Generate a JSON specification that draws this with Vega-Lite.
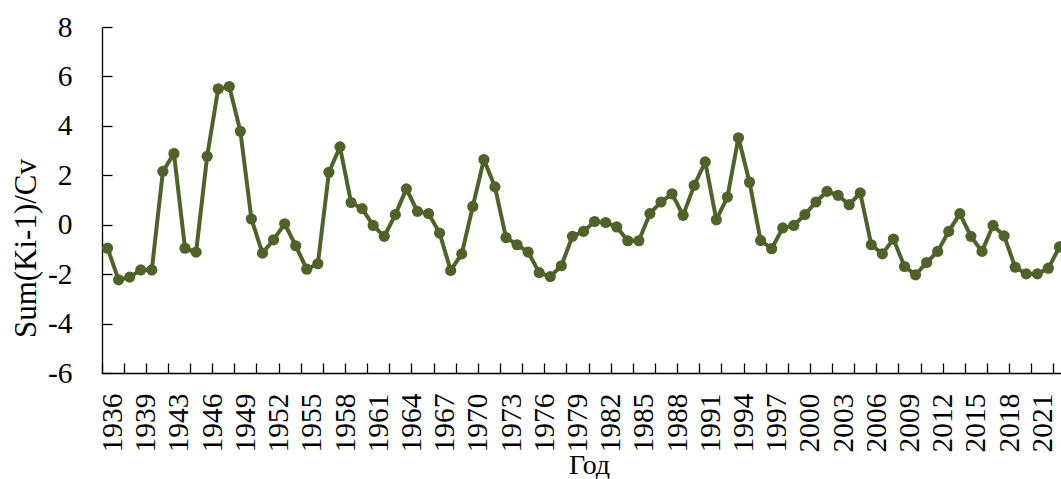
{
  "$schema": "https://vega.github.io/schema/vega-lite/v6.json",
  "width": 959,
  "height": 346,
  "autosize": {"type": "none"},
  "padding": {"left": 102, "top": 27, "right": 0, "bottom": 106},
  "background": "white",
  "config": {"view": {"stroke": null}, "font": "Liberation Serif"},
  "data": {
    "values": [
      {"year": 1936, "value": -0.95}, {"year": 1937, "value": -2.23}, {"year": 1938, "value": -2.12},
      {"year": 1939, "value": -1.83}, {"year": 1940, "value": -1.83}, {"year": 1942, "value": 2.16},
      {"year": 1943, "value": 2.88}, {"year": 1944, "value": -0.95}, {"year": 1945, "value": -1.11},
      {"year": 1946, "value": 2.77}, {"year": 1947, "value": 5.5}, {"year": 1948, "value": 5.59},
      {"year": 1949, "value": 3.78}, {"year": 1950, "value": 0.23}, {"year": 1951, "value": -1.15},
      {"year": 1952, "value": -0.61}, {"year": 1953, "value": 0.04}, {"year": 1954, "value": -0.85},
      {"year": 1955, "value": -1.8}, {"year": 1956, "value": -1.58}, {"year": 1957, "value": 2.12},
      {"year": 1958, "value": 3.15}, {"year": 1959, "value": 0.9}, {"year": 1960, "value": 0.65},
      {"year": 1961, "value": -0.03}, {"year": 1962, "value": -0.47}, {"year": 1963, "value": 0.41},
      {"year": 1964, "value": 1.45}, {"year": 1965, "value": 0.54}, {"year": 1966, "value": 0.45},
      {"year": 1967, "value": -0.34}, {"year": 1968, "value": -1.85}, {"year": 1969, "value": -1.18},
      {"year": 1970, "value": 0.74}, {"year": 1971, "value": 2.64}, {"year": 1972, "value": 1.53},
      {"year": 1973, "value": -0.52}, {"year": 1974, "value": -0.81}, {"year": 1975, "value": -1.11},
      {"year": 1976, "value": -1.94}, {"year": 1977, "value": -2.1}, {"year": 1978, "value": -1.66},
      {"year": 1979, "value": -0.47}, {"year": 1980, "value": -0.27}, {"year": 1981, "value": 0.13},
      {"year": 1982, "value": 0.09}, {"year": 1983, "value": -0.09}, {"year": 1984, "value": -0.65},
      {"year": 1985, "value": -0.65}, {"year": 1986, "value": 0.45}, {"year": 1987, "value": 0.92},
      {"year": 1988, "value": 1.25}, {"year": 1989, "value": 0.38}, {"year": 1990, "value": 1.59},
      {"year": 1991, "value": 2.54}, {"year": 1992, "value": 0.2}, {"year": 1993, "value": 1.12},
      {"year": 1994, "value": 3.52}, {"year": 1995, "value": 1.72}, {"year": 1996, "value": -0.64},
      {"year": 1997, "value": -0.97}, {"year": 1998, "value": -0.13}, {"year": 1999, "value": -0.03},
      {"year": 2000, "value": 0.41}, {"year": 2001, "value": 0.92}, {"year": 2002, "value": 1.35},
      {"year": 2003, "value": 1.19}, {"year": 2004, "value": 0.81}, {"year": 2005, "value": 1.29},
      {"year": 2006, "value": -0.81}, {"year": 2007, "value": -1.18}, {"year": 2008, "value": -0.58},
      {"year": 2009, "value": -1.69}, {"year": 2010, "value": -2.03}, {"year": 2011, "value": -1.53},
      {"year": 2012, "value": -1.08}, {"year": 2013, "value": -0.27}, {"year": 2014, "value": 0.45},
      {"year": 2015, "value": -0.47}, {"year": 2016, "value": -1.08}, {"year": 2017, "value": -0.03},
      {"year": 2018, "value": -0.45}, {"year": 2019, "value": -1.72}, {"year": 2020, "value": -1.99},
      {"year": 2021, "value": -1.99}, {"year": 2022, "value": -1.76}, {"year": 2023, "value": -0.9}
    ]
  },
  "encoding": {
    "x": {
      "field": "year",
      "type": "ordinal",
      "scale": {"type": "band", "paddingInner": 0, "paddingOuter": 0, "range": [0, 963]},
      "axis": {
        "title": "Год",
        "titleFont": "Liberation Serif",
        "titleFontSize": 28,
        "titleFontWeight": "normal",
        "titleColor": "black",
        "titleX": 487,
        "titleY": 100,
        "titleAlign": "center",
        "titleBaseline": "alphabetic",
        "labelAngle": 270,
        "labelAlign": "right",
        "labelBaseline": "middle",
        "labelFont": "Liberation Serif",
        "labelFontSize": 29.5,
        "labelColor": "black",
        "labelPadding": 30,
        "labelOffset": 5.53,
        "labelExpr": "(datum.value == 1936 || datum.value == 1939 || (datum.value >= 1943 && (datum.value - 1943) % 3 == 0)) ? toString(datum.value) : ''",
        "bandPosition": 0,
        "tickSize": -10,
        "tickColor": "black",
        "tickWidth": 1.3,
        "tickOpacity": {"condition": {"test": "datum.value <= 1940 ? datum.value % 2 == 0 : datum.value % 2 == 1", "value": 1}, "value": 0},
        "domainColor": "black",
        "domainWidth": 1.3,
        "grid": false
      }
    },
    "y": {
      "field": "value",
      "type": "quantitative",
      "scale": {"domain": [-6, 8], "nice": false, "zero": false},
      "axis": {
        "title": "Sum(Ki-1)/Cv",
        "titleFont": "Liberation Serif",
        "titleFontSize": 31,
        "titleFontWeight": "normal",
        "titleColor": "black",
        "titleAngle": 270,
        "titleX": -76,
        "titleY": 221,
        "titleAlign": "center",
        "titleBaseline": "middle",
        "values": [-6, -4, -2, 0, 2, 4, 6, 8],
        "labelExpr": "toString(datum.value)",
        "labelFont": "Liberation Serif",
        "labelFontSize": 29.5,
        "labelColor": "black",
        "labelPadding": 40,
        "tickSize": -10,
        "tickColor": "black",
        "tickWidth": 1.3,
        "domainColor": "black",
        "domainWidth": 1.3,
        "grid": false
      }
    }
  },
  "layer": [
    {"mark": {"type": "line", "color": "#4F6228", "strokeWidth": 4, "clip": true}},
    {"mark": {"type": "circle", "color": "#4F6228", "size": 125, "opacity": 1, "clip": true}}
  ]
}
